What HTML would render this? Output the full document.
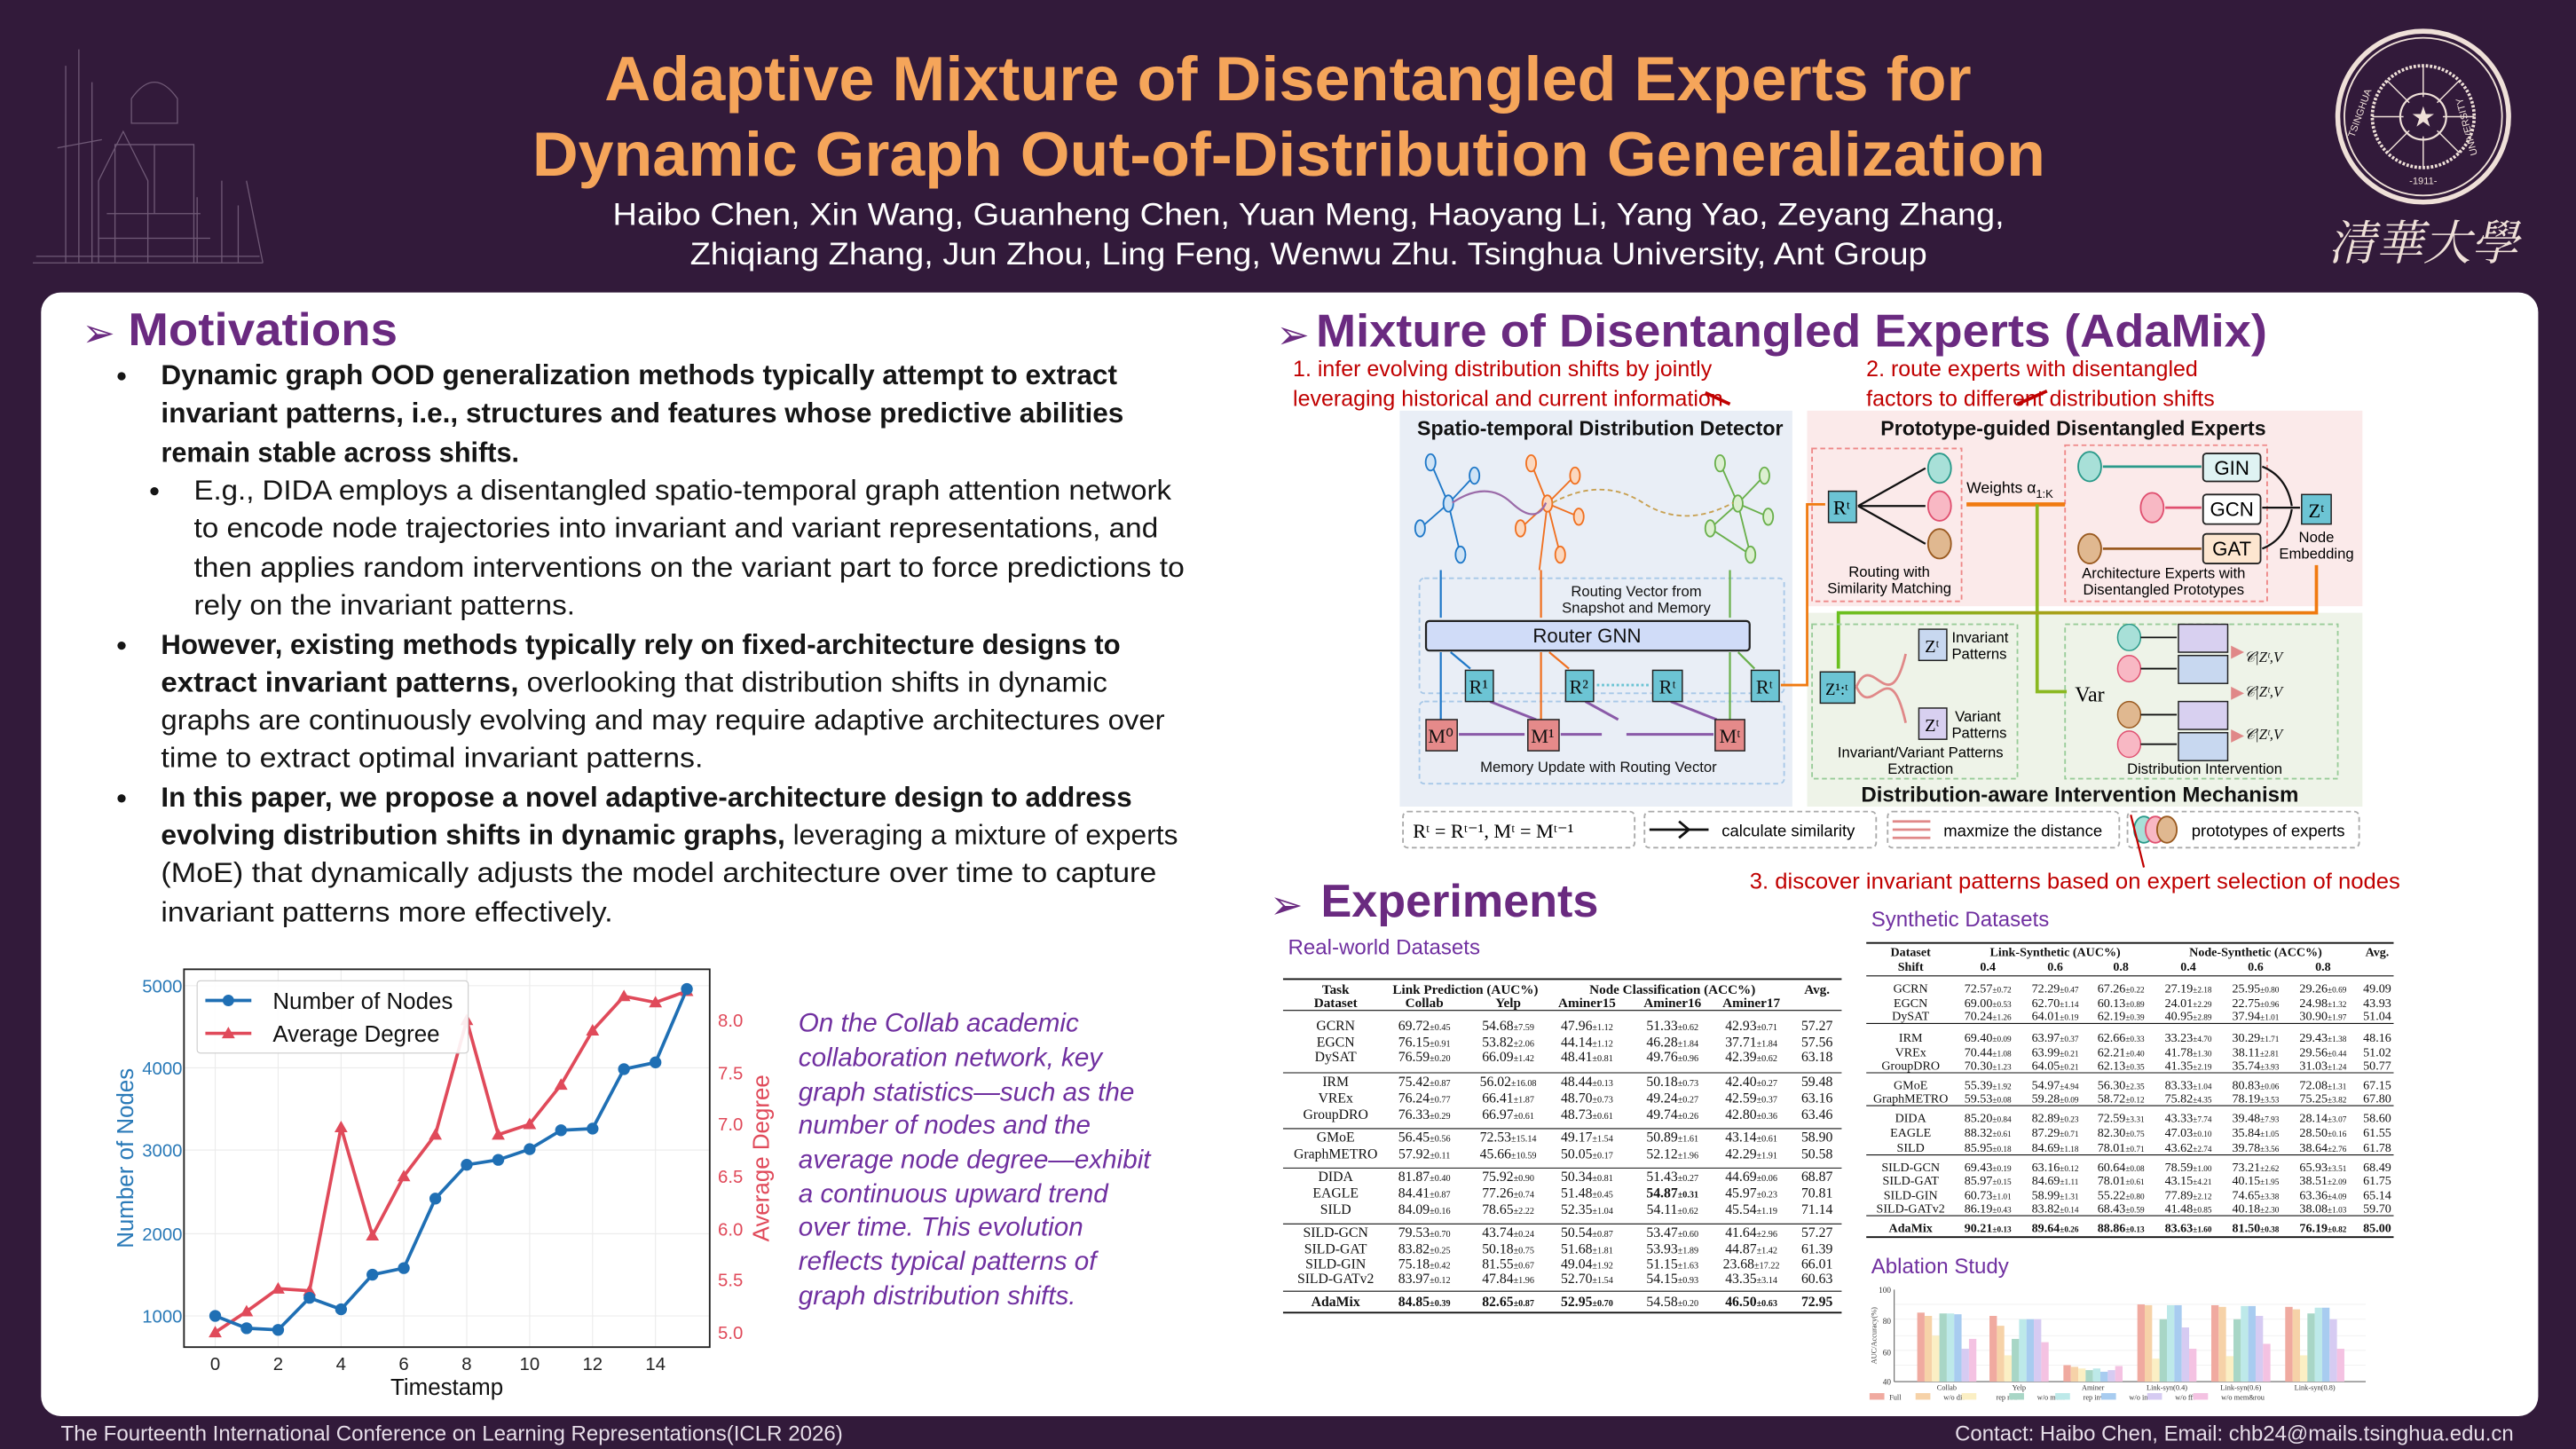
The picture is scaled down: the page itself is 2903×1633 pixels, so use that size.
<!DOCTYPE html>
<html><head><meta charset="utf-8"><style>
html,body{margin:0;padding:0;background:#321a3a;}
svg{display:block;}
</style></head><body>
<svg width="2903" height="1633" viewBox="0 0 1568 882" xmlns="http://www.w3.org/2000/svg" font-family="Liberation Sans, sans-serif">
<rect width="1568" height="882" fill="#321a3a"/>
<!-- building sketch -->
<g stroke="#8a7590" stroke-width="0.7" fill="none" opacity="0.7">
<path d="M40 160 L40 40 M48 160 L48 30 M56 160 L56 50 M35 90 L62 85"/>
<path d="M60 160 L60 110 L75 80 L90 110 L90 160"/>
<path d="M80 60 Q94 40 108 60 L108 75 L80 75 Z"/>
<path d="M70 160 L70 88 L118 88 L118 160 M94 88 L94 130 M65 130 L122 130 M60 145 L128 145"/>
<path d="M120 160 L120 120 M135 160 L135 110 M145 160 L145 125 M150 110 L160 160"/>
<path d="M20 160 L160 160 M22 156 L158 156"/>
</g>
<!-- logo -->
<g fill="none" stroke="#efe0d8">
<circle cx="1475" cy="71" r="52" stroke-width="3"/>
<circle cx="1475" cy="71" r="48" stroke-width="1"/>
<circle cx="1475" cy="71" r="31" stroke-width="2" stroke-dasharray="1.5 1"/>
<circle cx="1475" cy="71" r="14" stroke-width="1.2"/>
<path d="M1475 40 L1475 102 M1444 71 L1506 71 M1453 49 L1497 93 M1497 49 L1453 93" stroke-width="0.8"/>
</g>
<circle cx="1475" cy="71" r="12" fill="#321a3a"/>
<text x="1475" y="77" font-size="17" fill="#efe0d8" text-anchor="middle">★</text>
<text x="1475" y="112" font-size="6" fill="#efe0d8" text-anchor="middle">-1911-</text>
<text x="1433" y="84" font-size="6" fill="#efe0d8" transform="rotate(-70 1433 84)">TSINGHUA</text>
<text x="1508" y="94" font-size="6" fill="#efe0d8" transform="rotate(-105 1508 94)">UNIVERSITY</text>
<text x="1475" y="158" font-size="29" fill="#efe0d8" text-anchor="middle" font-family="Noto Serif CJK SC, WenQuanYi Zen Hei, serif" font-style="italic">清華大學</text>
<!-- title -->
<text x="368" y="61" font-size="38" font-weight="bold" fill="#f5a55a" textLength="832" lengthAdjust="spacingAndGlyphs">Adaptive Mixture of Disentangled Experts for</text>
<text x="324" y="107" font-size="38" font-weight="bold" fill="#f5a55a" textLength="921" lengthAdjust="spacingAndGlyphs">Dynamic Graph Out-of-Distribution Generalization</text>
<text x="373" y="137" font-size="19" fill="#fff" textLength="847" lengthAdjust="spacingAndGlyphs">Haibo Chen, Xin Wang, Guanheng Chen, Yuan Meng, Haoyang Li, Yang Yao, Zeyang Zhang,</text>
<text x="420" y="161" font-size="19" fill="#fff" textLength="753" lengthAdjust="spacingAndGlyphs">Zhiqiang Zhang, Jun Zhou, Ling Feng, Wenwu Zhu. Tsinghua University, Ant Group</text>
<!-- panel -->
<rect x="25" y="178" width="1520" height="684" rx="12" fill="#fff"/>
<!-- footer -->
<text x="37" y="877" font-size="13" fill="#e6dde8" textLength="476" lengthAdjust="spacingAndGlyphs">The Fourteenth International Conference on Learning Representations(ICLR 2026)</text>
<text x="1530" y="877" font-size="13" fill="#e6dde8" text-anchor="end" textLength="340" lengthAdjust="spacingAndGlyphs">Contact: Haibo Chen, Email: chb24@mails.tsinghua.edu.cn</text>

<!-- Motivations -->
<text x="50" y="211" font-size="24" fill="#6a2a80">➢</text>
<text x="78" y="210" font-size="28" font-weight="bold" fill="#6a2a80" textLength="164" lengthAdjust="spacingAndGlyphs">Motivations</text>
<g font-size="17" fill="#151515">
<circle cx="74" cy="229" r="2.5" fill="#151515"/>
<text x="98" y="234" font-weight="bold" textLength="582" lengthAdjust="spacingAndGlyphs">Dynamic graph OOD generalization methods typically attempt to extract</text>
<text x="98" y="257" font-weight="bold" textLength="586" lengthAdjust="spacingAndGlyphs">invariant patterns, i.e., structures and features whose predictive abilities</text>
<text x="98" y="281" font-weight="bold" textLength="218" lengthAdjust="spacingAndGlyphs">remain stable across shifts.</text>
<circle cx="94" cy="299" r="2.5" fill="#151515"/>
<text x="118" y="304" textLength="595" lengthAdjust="spacingAndGlyphs">E.g., DIDA employs a disentangled spatio-temporal graph attention network</text>
<text x="118" y="327" textLength="587" lengthAdjust="spacingAndGlyphs">to encode node trajectories into invariant and variant representations, and</text>
<text x="118" y="351" textLength="603" lengthAdjust="spacingAndGlyphs">then applies random interventions on the variant part to force predictions to</text>
<text x="118" y="374" textLength="232" lengthAdjust="spacingAndGlyphs">rely on the invariant patterns.</text>
<circle cx="74" cy="393" r="2.5" fill="#151515"/>
<text x="98" y="398" font-weight="bold" textLength="584" lengthAdjust="spacingAndGlyphs">However, existing methods typically rely on fixed-architecture designs to</text>
<text x="98" y="421" textLength="576" lengthAdjust="spacingAndGlyphs"><tspan font-weight="bold">extract invariant patterns,</tspan> overlooking that distribution shifts in dynamic</text>
<text x="98" y="444" textLength="611" lengthAdjust="spacingAndGlyphs">graphs are continuously evolving and may require adaptive architectures over</text>
<text x="98" y="467" textLength="330" lengthAdjust="spacingAndGlyphs">time to extract optimal invariant patterns.</text>
<circle cx="74" cy="486" r="2.5" fill="#151515"/>
<text x="98" y="491" font-weight="bold" textLength="591" lengthAdjust="spacingAndGlyphs">In this paper, we propose a novel adaptive-architecture design to address</text>
<text x="98" y="514" textLength="619" lengthAdjust="spacingAndGlyphs"><tspan font-weight="bold">evolving distribution shifts in dynamic graphs,</tspan> leveraging a mixture of experts</text>
<text x="98" y="537" textLength="606" lengthAdjust="spacingAndGlyphs">(MoE) that dynamically adjusts the model architecture over time to capture</text>
<text x="98" y="561" textLength="275" lengthAdjust="spacingAndGlyphs">invariant patterns more effectively.</text>
</g>
<!-- chart -->
<g>
<g stroke="#ebebeb" stroke-width="0.6">
<line x1="112" y1="600" x2="432" y2="600"/><line x1="112" y1="650" x2="432" y2="650"/><line x1="112" y1="700" x2="432" y2="700"/><line x1="112" y1="751" x2="432" y2="751"/><line x1="112" y1="801" x2="432" y2="801"/>
<line x1="131" y1="590" x2="131" y2="820"/><line x1="169.3" y1="590" x2="169.3" y2="820"/><line x1="207.6" y1="590" x2="207.6" y2="820"/><line x1="245.8" y1="590" x2="245.8" y2="820"/><line x1="284.1" y1="590" x2="284.1" y2="820"/><line x1="322.4" y1="590" x2="322.4" y2="820"/><line x1="360.7" y1="590" x2="360.7" y2="820"/><line x1="399" y1="590" x2="399" y2="820"/>
</g>
<rect x="112" y="590" width="320" height="230" fill="none" stroke="#222" stroke-width="1"/>
<g font-size="11" fill="#2a7ab8" text-anchor="end">
<text x="111" y="604">5000</text><text x="111" y="654">4000</text><text x="111" y="704">3000</text><text x="111" y="755">2000</text><text x="111" y="805">1000</text></g>
<g font-size="11" fill="#e04a5a">
<text x="437" y="625">8.0</text><text x="437" y="657">7.5</text><text x="437" y="688">7.0</text><text x="437" y="720">6.5</text><text x="437" y="752">6.0</text><text x="437" y="783">5.5</text><text x="437" y="815">5.0</text></g>
<g font-size="11" fill="#222" text-anchor="middle">
<text x="131" y="834">0</text><text x="169.3" y="834">2</text><text x="207.6" y="834">4</text><text x="245.8" y="834">6</text><text x="284.1" y="834">8</text><text x="322.4" y="834">10</text><text x="360.7" y="834">12</text><text x="399" y="834">14</text></g>
<text x="272" y="849" font-size="14" fill="#111" text-anchor="middle">Timestamp</text>
<text x="81" y="705" font-size="14" fill="#2a7ab8" text-anchor="middle" transform="rotate(-90 81 705)">Number of Nodes</text>
<text x="468" y="705" font-size="14" fill="#e04a5a" text-anchor="middle" transform="rotate(-90 468 705)">Average Degree</text>
<polyline fill="none" stroke="#e04a5a" stroke-width="2" points="131,811 150.1,798.3 169.3,784.4 188.4,785.7 207.6,686.2 226.7,752.1 245.8,716 265,690.7 284.1,621 303.3,690.7 322.4,684.3 341.5,660.3 360.7,627.3 379.8,606.4 399,610.2 418.1,603.3"/>
<g fill="#e04a5a"><path d="M131 807 l4 7 h-8z M150.1 794.3 l4 7 h-8z M169.3 780.4 l4 7 h-8z M188.4 781.7 l4 7 h-8z M207.6 682.2 l4 7 h-8z M226.7 748.1 l4 7 h-8z M245.8 712 l4 7 h-8z M265 686.7 l4 7 h-8z M284.1 617 l4 7 h-8z M303.3 686.7 l4 7 h-8z M322.4 680.3 l4 7 h-8z M341.5 656.3 l4 7 h-8z M360.7 623.3 l4 7 h-8z M379.8 602.4 l4 7 h-8z M399 606.2 l4 7 h-8z M418.1 599.3 l4 7 h-8z"/></g>
<polyline fill="none" stroke="#1f6fb4" stroke-width="2" points="131,801 150.1,808.5 169.3,809.5 188.4,790 207.6,797 226.7,775.9 245.8,771.9 265,729.6 284.1,709 303.3,706 322.4,699.5 341.5,688 360.7,687 379.8,650.8 399,646.7 418.1,602"/>
<g fill="#1f6fb4"><circle cx="131" cy="801" r="3.6"/><circle cx="150.1" cy="808.5" r="3.6"/><circle cx="169.3" cy="809.5" r="3.6"/><circle cx="188.4" cy="790" r="3.6"/><circle cx="207.6" cy="797" r="3.6"/><circle cx="226.7" cy="775.9" r="3.6"/><circle cx="245.8" cy="771.9" r="3.6"/><circle cx="265" cy="729.6" r="3.6"/><circle cx="284.1" cy="709" r="3.6"/><circle cx="303.3" cy="706" r="3.6"/><circle cx="322.4" cy="699.5" r="3.6"/><circle cx="341.5" cy="688" r="3.6"/><circle cx="360.7" cy="687" r="3.6"/><circle cx="379.8" cy="650.8" r="3.6"/><circle cx="399" cy="646.7" r="3.6"/><circle cx="418.1" cy="602" r="3.6"/></g>
<rect x="120" y="597" width="165" height="44" rx="2" fill="#fff" fill-opacity="0.9" stroke="#ccc" stroke-width="0.6"/>
<line x1="125" y1="609" x2="153" y2="609" stroke="#1f6fb4" stroke-width="2"/><circle cx="139" cy="609" r="3.5" fill="#1f6fb4"/>
<line x1="125" y1="629" x2="153" y2="629" stroke="#e04a5a" stroke-width="2"/><path d="M139 625 l4 7 h-8z" fill="#e04a5a"/>
<text x="166" y="614" font-size="14" fill="#111">Number of Nodes</text>
<text x="166" y="634" font-size="14" fill="#111">Average Degree</text>
</g>
<g font-size="16" font-style="italic" fill="#7030a0">
<text x="486" y="628">On the Collab academic</text>
<text x="486" y="649">collaboration network, key</text>
<text x="486" y="670">graph statistics—such as the</text>
<text x="486" y="690">number of nodes and the</text>
<text x="486" y="711">average node degree—exhibit</text>
<text x="486" y="732">a continuous upward trend</text>
<text x="486" y="752">over time. This evolution</text>
<text x="486" y="773">reflects typical patterns of</text>
<text x="486" y="794">graph distribution shifts.</text>
</g>

<!-- AdaMix heading -->
<text x="777" y="212" font-size="24" fill="#6a2a80">➢</text>
<text x="801" y="211" font-size="28" font-weight="bold" fill="#6a2a80" textLength="579" lengthAdjust="spacingAndGlyphs">Mixture of Disentangled Experts (AdaMix)</text>
<g font-size="13.5" fill="#c00000">
<text x="787" y="229">1. infer evolving distribution shifts by jointly</text>
<text x="787" y="247">leveraging historical and current information</text>
<text x="1136" y="229">2. route experts with disentangled</text>
<text x="1136" y="247">factors to different distribution shifts</text>
<text x="1065" y="541" textLength="396" lengthAdjust="spacingAndGlyphs">3. discover invariant patterns based on expert selection of nodes</text>
</g>
<!-- diagram panels -->
<rect x="852" y="250" width="239" height="241" fill="#e9eef6"/>
<rect x="1100" y="250" width="338" height="119" fill="#fbeaea"/>
<rect x="1100" y="373" width="338" height="118" fill="#eef3e8"/>
<text x="974" y="265" font-size="12.5" font-weight="bold" text-anchor="middle" fill="#111">Spatio-temporal Distribution Detector</text>
<text x="1262" y="265" font-size="12.5" font-weight="bold" text-anchor="middle" fill="#111">Prototype-guided Disentangled Experts</text>
<text x="1266" y="488" font-size="13" font-weight="bold" text-anchor="middle" fill="#111">Distribution-aware Intervention Mechanism</text>
<path d="M1053 246 L1038 239 M1228 246 L1246 238" stroke="#c00000" stroke-width="2"/>
<!-- graphs -->
<g stroke-width="1" fill="#cfe3f5">
<g stroke="#1f78c8"><path d="M881.6 306.5 L870.8 281.4 M881.6 306.5 L897.5 289.5 M881.6 306.5 L864.4 321.6 M881.6 306.5 L889 337.6" fill="none"/>
<ellipse cx="870.8" cy="281.4" rx="3" ry="5"/><ellipse cx="897.5" cy="289.5" rx="3" ry="5"/><ellipse cx="864.4" cy="321.6" rx="3" ry="5"/><ellipse cx="889" cy="337.6" rx="3" ry="5"/><ellipse cx="881.6" cy="306.5" rx="3" ry="5"/></g>
<g stroke="#f07020" fill="#fbd8bf"><path d="M941.9 306.5 L932 282 M941.9 306.5 L958.7 289.5 M941.9 306.5 L961 314.5 M941.9 306.5 L925.5 321.6 M941.9 306.5 L949.7 337.6 M941.9 306.5 L937 347" fill="none"/>
<ellipse cx="932" cy="282" rx="3" ry="5"/><ellipse cx="958.7" cy="289.5" rx="3" ry="5"/><ellipse cx="961" cy="314.5" rx="3" ry="5"/><ellipse cx="925.5" cy="321.6" rx="3" ry="5"/><ellipse cx="949.7" cy="337.6" rx="3" ry="5"/><ellipse cx="941.9" cy="306.5" rx="3" ry="5"/></g>
<g stroke="#6ab04c" fill="#dcefd0"><path d="M1057.8 306.5 L1047 282 M1057.8 306.5 L1074 289.5 M1057.8 306.5 L1076.3 314.5 M1057.8 306.5 L1041 321.6 M1057.8 306.5 L1065.5 337.6 M1041 321.6 L1065.5 337.6" fill="none"/>
<ellipse cx="1047" cy="282" rx="3" ry="5"/><ellipse cx="1074" cy="289.5" rx="3" ry="5"/><ellipse cx="1076.3" cy="314.5" rx="3" ry="5"/><ellipse cx="1041" cy="321.6" rx="3" ry="5"/><ellipse cx="1065.5" cy="337.6" rx="3" ry="5"/><ellipse cx="1057.8" cy="306.5" rx="3" ry="5"/></g>
</g>
<path d="M884 306 Q905 292 920 306 T941 306" stroke="#9a6aa8" fill="none" stroke-width="1.2"/>
<path d="M945 306 Q975 290 1000 306 T1055 306" stroke="#c8a050" fill="none" stroke-width="1" stroke-dasharray="3 2"/>
<defs><linearGradient id="tl" x1="0" x2="1"><stop offset="0" stop-color="#1f78c8"/><stop offset="0.4" stop-color="#f07020"/><stop offset="1" stop-color="#6ab04c"/></linearGradient>
<linearGradient id="og" x1="0" x2="1"><stop offset="0" stop-color="#6ac020"/><stop offset="1" stop-color="#f07a10"/></linearGradient></defs>
<line x1="860" y1="347" x2="1082" y2="347" stroke="url(#tl)" stroke-width="2"/>
<rect x="864" y="352" width="222" height="70" rx="3" fill="none" stroke="#a8c8e8" stroke-dasharray="3 2"/>
<rect x="864" y="427" width="222" height="50" rx="3" fill="none" stroke="#a8c8e8" stroke-dasharray="3 2"/>
<g stroke-width="1.2" fill="none"><path d="M877 347 V376" stroke="#1f78c8"/><path d="M938 347 V376" stroke="#f07020"/><path d="M1053 347 V376" stroke="#6ab04c"/>
<path d="M877 438 V397 M883 397 L895 407" stroke="#1f78c8"/><path d="M938 438 V397 M943 397 L955 407" stroke="#f07020"/><path d="M1053 438 V397 M1058 397 L1068 407" stroke="#6ab04c"/>
<path d="M888 447 H928 M950 447 H975 M990 447 H1043 M907 427 L935 438 M965 427 L985 438 M1017 427 L1045 438" stroke="#8a5aa8" stroke-width="1.6"/></g>
<text x="996" y="363" font-size="9" text-anchor="middle" fill="#111">Routing Vector from</text>
<text x="996" y="373" font-size="9" text-anchor="middle" fill="#111">Snapshot and Memory</text>
<rect x="868" y="378" width="197" height="18" rx="2" fill="#d0dcf8" stroke="#222" stroke-width="1.2"/>
<text x="966" y="391" font-size="12" text-anchor="middle" fill="#111">Router GNN</text>
<g fill="#6cc4d4" stroke="#222" stroke-width="0.8"><rect x="892" y="408" width="17" height="19"/><rect x="953" y="408" width="17" height="19"/><rect x="1006" y="408" width="18" height="19"/><rect x="1066" y="408" width="17" height="19"/></g>
<g font-family="Liberation Serif, serif" font-size="12" fill="#111" text-anchor="middle"><text x="900" y="422">R¹</text><text x="961" y="422">R²</text><text x="1015" y="422">Rᵗ</text><text x="1074" y="422">Rᵗ</text></g>
<line x1="972" y1="417" x2="1004" y2="417" stroke="#6cc4d4" stroke-width="1.5" stroke-dasharray="1.5 1.5"/>
<g fill="#e58a8a" stroke="#222" stroke-width="0.8"><rect x="868" y="438" width="19" height="19"/><rect x="930" y="438" width="19" height="19"/><rect x="1044" y="438" width="18" height="19"/></g>
<g font-family="Liberation Serif, serif" font-size="12" fill="#111" text-anchor="middle"><text x="877" y="452">M⁰</text><text x="939" y="452">M¹</text><text x="1053" y="452">Mᵗ</text></g>
<text x="973" y="470" font-size="9" text-anchor="middle" fill="#111">Memory Update with Routing Vector</text>
<path d="M1084 417 H1100 V307 H1111" stroke="#f07a10" stroke-width="1.5" fill="none"/>
<!-- experts -->
<rect x="1103" y="273" width="91" height="93" fill="none" stroke="#e88" stroke-dasharray="3 2"/>
<rect x="1257" y="271" width="123" height="95" fill="none" stroke="#e88" stroke-dasharray="3 2"/>
<rect x="1113" y="299" width="17" height="19" fill="#6cc4d4" stroke="#222" stroke-width="0.8"/>
<text x="1121" y="313" font-size="12" font-family="Liberation Serif, serif" text-anchor="middle">Rᵗ</text>
<path d="M1131 308 L1172 285 M1131 308 H1172 M1131 308 L1172 331" stroke="#111" stroke-width="1.2"/>
<ellipse cx="1180.6" cy="285" rx="7" ry="9" fill="#a8e0d8" stroke="#2a9a8a"/>
<ellipse cx="1180.6" cy="308" rx="7" ry="9" fill="#f8b8c4" stroke="#e05070"/>
<ellipse cx="1180.6" cy="331" rx="7" ry="9" fill="#e0b890" stroke="#9a5a20"/>
<text x="1150" y="351" font-size="9" text-anchor="middle">Routing with</text>
<text x="1150" y="361" font-size="9" text-anchor="middle">Similarity Matching</text>
<text x="1197" y="300" font-size="9.5">Weights α<tspan font-size="7" dy="3">1:K</tspan></text>
<path d="M1197 307 H1257" stroke="#f07a10" stroke-width="2.5"/>
<path d="M1240 307 V421 H1258" stroke="#8ab820" stroke-width="2" fill="none"/>
<ellipse cx="1272" cy="284" rx="7" ry="9" fill="#a8e0d8" stroke="#2a9a8a"/>
<ellipse cx="1310" cy="309" rx="7" ry="9" fill="#f8b8c4" stroke="#e05070"/>
<ellipse cx="1272" cy="334" rx="7" ry="9" fill="#e0b890" stroke="#9a5a20"/>
<path d="M1280 284 H1340" stroke="#2a9a8a" stroke-width="1.5"/><path d="M1318 309 H1340" stroke="#e05070" stroke-width="1.5"/><path d="M1280 334 H1340" stroke="#9a5a20" stroke-width="1.5"/>
<rect x="1341" y="276" width="35" height="17" rx="2" fill="#dff3f3" stroke="#222"/><text x="1358.5" y="289" font-size="12" text-anchor="middle">GIN</text>
<rect x="1341" y="301" width="35" height="18" rx="2" fill="#fff" stroke="#222"/><text x="1358.5" y="314" font-size="12" text-anchor="middle">GCN</text>
<rect x="1341" y="325" width="35" height="18" rx="2" fill="#fde6d0" stroke="#222"/><text x="1358.5" y="338" font-size="12" text-anchor="middle">GAT</text>
<path d="M1377 284 Q1392 290 1395 308 M1377 309 H1400 M1377 334 Q1392 328 1395 310" stroke="#111" stroke-width="1.2" fill="none"/>
<rect x="1401" y="301" width="18" height="18" fill="#6cc4d4" stroke="#222" stroke-width="0.8"/><text x="1410" y="315" font-size="12" font-family="Liberation Serif, serif" text-anchor="middle">Zᵗ</text>
<text x="1410" y="330" font-size="9" text-anchor="middle">Node</text><text x="1410" y="340" font-size="9" text-anchor="middle">Embedding</text>
<text x="1317" y="352" font-size="9" text-anchor="middle">Architecture Experts with</text>
<text x="1317" y="362" font-size="9" text-anchor="middle">Disentangled Prototypes</text>
<path d="M1410 344 V373 H1119 V407" stroke="url(#og)" stroke-width="2" fill="none"/>
<!-- intervention -->
<rect x="1103" y="380" width="125" height="94" fill="none" stroke="#9c9" stroke-dasharray="3 2"/>
<rect x="1257" y="380" width="166" height="94" fill="none" stroke="#9c9" stroke-dasharray="3 2"/>
<rect x="1108" y="409" width="21" height="19" fill="#6cc4d4" stroke="#222" stroke-width="0.8"/><text x="1118" y="423" font-size="10" font-family="Liberation Serif, serif" text-anchor="middle">Z¹:ᵗ</text>
<path d="M1130 418 C1140 395 1150 440 1160 398 M1130 418 C1140 440 1150 395 1160 440" stroke="#e08888" stroke-width="1.5" fill="none"/>
<rect x="1168" y="383" width="17" height="19" fill="#c8d8f0" stroke="#222" stroke-width="0.8"/><text x="1176" y="397" font-size="11" font-family="Liberation Serif, serif" text-anchor="middle">Zᵗ</text>
<rect x="1168" y="431" width="17" height="19" fill="#d8d0f0" stroke="#222" stroke-width="0.8"/><text x="1176" y="445" font-size="11" font-family="Liberation Serif, serif" text-anchor="middle">Zᵗ</text>
<text x="1188" y="391" font-size="9">Invariant</text><text x="1188" y="401" font-size="9">Patterns</text>
<text x="1190" y="439" font-size="9">Variant</text><text x="1188" y="449" font-size="9">Patterns</text>
<text x="1169" y="461" font-size="9" text-anchor="middle">Invariant/Variant Patterns</text>
<text x="1169" y="471" font-size="9" text-anchor="middle">Extraction</text>
<text x="1263" y="427" font-size="13" font-family="Liberation Serif, serif">Var</text>
<g stroke-width="0.8"><ellipse cx="1296" cy="388" rx="7" ry="8" fill="#a8e0d8" stroke="#2a9a8a"/><ellipse cx="1296" cy="407" rx="7" ry="8" fill="#f8b8c4" stroke="#e05070"/><ellipse cx="1296" cy="435" rx="7" ry="8" fill="#e0b890" stroke="#9a5a20"/><ellipse cx="1296" cy="453" rx="7" ry="8" fill="#f8b8c4" stroke="#e05070"/></g>
<g fill="#d8d0f0" stroke="#222" stroke-width="0.8"><rect x="1326" y="380" width="30" height="17"/><rect x="1326" y="399" width="30" height="17" fill="#c8d8f0"/><rect x="1326" y="427" width="30" height="17"/><rect x="1326" y="446" width="30" height="17" fill="#c8d8f0"/></g>
<path d="M1303 388 H1325 M1303 407 H1325 M1303 435 H1325 M1303 453 H1325" stroke="#111"/>
<g font-size="9" font-family="Liberation Serif, serif" font-style="italic" fill="#111"><text x="1366" y="403">𝒞|Zᵗ,V</text><text x="1366" y="424">𝒞|Zᵗ,V</text><text x="1366" y="450">𝒞|Zᵗ,V</text></g>
<path d="M1358 393 l8 4 -8 4z M1358 418 l8 4 -8 4z M1358 444 l8 4 -8 4z" fill="#e08888"/>
<text x="1342" y="471" font-size="9" text-anchor="middle">Distribution Intervention</text>
<!-- legend row -->
<g fill="none" stroke="#aaa" stroke-dasharray="3 2"><rect x="854" y="494" width="141" height="22" rx="3"/><rect x="1001" y="494" width="141" height="22" rx="3"/><rect x="1149" y="494" width="141" height="22" rx="3"/><rect x="1295" y="494" width="141" height="22" rx="3"/></g>
<text x="860" y="510" font-size="12" font-family="Liberation Serif, serif">Rᵗ = Rᵗ⁻¹, Mᵗ = Mᵗ⁻¹</text>
<path d="M1004 505 H1040 M1022 500 L1028 505 L1022 510" stroke="#111" stroke-width="1.5" fill="none"/>
<text x="1048" y="509" font-size="10">calculate similarity</text>
<path d="M1152 500 H1175 M1152 505 H1175 M1152 510 H1175" stroke="#e08888" stroke-width="1.5"/>
<text x="1183" y="509" font-size="10">maxmize the distance</text>
<ellipse cx="1305" cy="505" rx="6" ry="8" fill="#a8e0d8" stroke="#2a9a8a"/><ellipse cx="1312" cy="505" rx="6" ry="8" fill="#f8b8c4" stroke="#e05070"/><ellipse cx="1319" cy="505" rx="6" ry="8" fill="#e0b890" stroke="#9a5a20"/>
<text x="1334" y="509" font-size="10">prototypes of experts</text>
<path d="M1297 496 L1305 528" stroke="#c00000" stroke-width="1.2"/>

<!-- Experiments -->
<text x="773" y="559" font-size="24" fill="#6a2a80">➢</text>
<text x="804" y="558" font-size="28" font-weight="bold" fill="#6a2a80" textLength="169" lengthAdjust="spacingAndGlyphs">Experiments</text>
<text x="784" y="581" font-size="13" fill="#7030a0">Real-world Datasets</text>
<text x="1139" y="564" font-size="13" fill="#7030a0">Synthetic Datasets</text>
<text x="1139" y="775" font-size="13" fill="#7030a0">Ablation Study</text>

<!-- real-world table -->
<g font-family="Liberation Serif, serif" font-size="8.2" fill="#111" text-anchor="middle">
<line x1="781" y1="596" x2="1121" y2="596" stroke="#111" stroke-width="1"/>
<line x1="781" y1="615" x2="1121" y2="615" stroke="#111" stroke-width="0.6"/>
<line x1="781" y1="653" x2="1121" y2="653" stroke="#111" stroke-width="0.6"/>
<line x1="781" y1="687" x2="1121" y2="687" stroke="#111" stroke-width="0.6"/>
<line x1="781" y1="711" x2="1121" y2="711" stroke="#111" stroke-width="0.6"/>
<line x1="781" y1="745" x2="1121" y2="745" stroke="#111" stroke-width="0.6"/>
<line x1="781" y1="786" x2="1121" y2="786" stroke="#111" stroke-width="0.6"/>
<line x1="781" y1="799" x2="1121" y2="799" stroke="#111" stroke-width="1"/>
<g font-weight="bold"><text x="813" y="605">Task</text><text x="813" y="613">Dataset</text><text x="892" y="605">Link Prediction (AUC%)</text><text x="1018" y="605">Node Classification (ACC%)</text><text x="1106" y="605">Avg.</text>
<text x="867" y="613">Collab</text><text x="918" y="613">Yelp</text><text x="966" y="613">Aminer15</text><text x="1018" y="613">Aminer16</text><text x="1066" y="613">Aminer17</text></g>
<g font-size="8.5">
<text y="627"><tspan x="813">GCRN</tspan><tspan x="867">69.72<tspan font-size="5.5">±0.45</tspan></tspan><tspan x="918">54.68<tspan font-size="5.5">±7.59</tspan></tspan><tspan x="966">47.96<tspan font-size="5.5">±1.12</tspan></tspan><tspan x="1018">51.33<tspan font-size="5.5">±0.62</tspan></tspan><tspan x="1066">42.93<tspan font-size="5.5">±0.71</tspan></tspan><tspan x="1106">57.27</tspan></text>
<text y="637"><tspan x="813">EGCN</tspan><tspan x="867">76.15<tspan font-size="5.5">±0.91</tspan></tspan><tspan x="918">53.82<tspan font-size="5.5">±2.06</tspan></tspan><tspan x="966">44.14<tspan font-size="5.5">±1.12</tspan></tspan><tspan x="1018">46.28<tspan font-size="5.5">±1.84</tspan></tspan><tspan x="1066">37.71<tspan font-size="5.5">±1.84</tspan></tspan><tspan x="1106">57.56</tspan></text>
<text y="646"><tspan x="813">DySAT</tspan><tspan x="867">76.59<tspan font-size="5.5">±0.20</tspan></tspan><tspan x="918">66.09<tspan font-size="5.5">±1.42</tspan></tspan><tspan x="966">48.41<tspan font-size="5.5">±0.81</tspan></tspan><tspan x="1018">49.76<tspan font-size="5.5">±0.96</tspan></tspan><tspan x="1066">42.39<tspan font-size="5.5">±0.62</tspan></tspan><tspan x="1106">63.18</tspan></text>
<text y="661"><tspan x="813">IRM</tspan><tspan x="867">75.42<tspan font-size="5.5">±0.87</tspan></tspan><tspan x="918">56.02<tspan font-size="5.5">±16.08</tspan></tspan><tspan x="966">48.44<tspan font-size="5.5">±0.13</tspan></tspan><tspan x="1018">50.18<tspan font-size="5.5">±0.73</tspan></tspan><tspan x="1066">42.40<tspan font-size="5.5">±0.27</tspan></tspan><tspan x="1106">59.48</tspan></text>
<text y="671"><tspan x="813">VREx</tspan><tspan x="867">76.24<tspan font-size="5.5">±0.77</tspan></tspan><tspan x="918">66.41<tspan font-size="5.5">±1.87</tspan></tspan><tspan x="966">48.70<tspan font-size="5.5">±0.73</tspan></tspan><tspan x="1018">49.24<tspan font-size="5.5">±0.27</tspan></tspan><tspan x="1066">42.59<tspan font-size="5.5">±0.37</tspan></tspan><tspan x="1106">63.16</tspan></text>
<text y="681"><tspan x="813">GroupDRO</tspan><tspan x="867">76.33<tspan font-size="5.5">±0.29</tspan></tspan><tspan x="918">66.97<tspan font-size="5.5">±0.61</tspan></tspan><tspan x="966">48.73<tspan font-size="5.5">±0.61</tspan></tspan><tspan x="1018">49.74<tspan font-size="5.5">±0.26</tspan></tspan><tspan x="1066">42.80<tspan font-size="5.5">±0.36</tspan></tspan><tspan x="1106">63.46</tspan></text>
<text y="695"><tspan x="813">GMoE</tspan><tspan x="867">56.45<tspan font-size="5.5">±0.56</tspan></tspan><tspan x="918">72.53<tspan font-size="5.5">±15.14</tspan></tspan><tspan x="966">49.17<tspan font-size="5.5">±1.54</tspan></tspan><tspan x="1018">50.89<tspan font-size="5.5">±1.61</tspan></tspan><tspan x="1066">43.14<tspan font-size="5.5">±0.61</tspan></tspan><tspan x="1106">58.90</tspan></text>
<text y="705"><tspan x="813">GraphMETRO</tspan><tspan x="867">57.92<tspan font-size="5.5">±0.11</tspan></tspan><tspan x="918">45.66<tspan font-size="5.5">±10.59</tspan></tspan><tspan x="966">50.05<tspan font-size="5.5">±0.17</tspan></tspan><tspan x="1018">52.12<tspan font-size="5.5">±1.96</tspan></tspan><tspan x="1066">42.29<tspan font-size="5.5">±1.91</tspan></tspan><tspan x="1106">50.58</tspan></text>
<text y="719"><tspan x="813">DIDA</tspan><tspan x="867">81.87<tspan font-size="5.5">±0.40</tspan></tspan><tspan x="918">75.92<tspan font-size="5.5">±0.90</tspan></tspan><tspan x="966">50.34<tspan font-size="5.5">±0.81</tspan></tspan><tspan x="1018">51.43<tspan font-size="5.5">±0.27</tspan></tspan><tspan x="1066">44.69<tspan font-size="5.5">±0.06</tspan></tspan><tspan x="1106">68.87</tspan></text>
<text y="729"><tspan x="813">EAGLE</tspan><tspan x="867">84.41<tspan font-size="5.5">±0.87</tspan></tspan><tspan x="918">77.26<tspan font-size="5.5">±0.74</tspan></tspan><tspan x="966">51.48<tspan font-size="5.5">±0.45</tspan></tspan><tspan x="1018" font-weight="bold">54.87<tspan font-size="5.5">±0.31</tspan></tspan><tspan x="1066">45.97<tspan font-size="5.5">±0.23</tspan></tspan><tspan x="1106">70.81</tspan></text>
<text y="739"><tspan x="813">SILD</tspan><tspan x="867">84.09<tspan font-size="5.5">±0.16</tspan></tspan><tspan x="918">78.65<tspan font-size="5.5">±2.22</tspan></tspan><tspan x="966">52.35<tspan font-size="5.5">±1.04</tspan></tspan><tspan x="1018">54.11<tspan font-size="5.5">±0.62</tspan></tspan><tspan x="1066">45.54<tspan font-size="5.5">±1.19</tspan></tspan><tspan x="1106">71.14</tspan></text>
<text y="753"><tspan x="813">SILD-GCN</tspan><tspan x="867">79.53<tspan font-size="5.5">±0.70</tspan></tspan><tspan x="918">43.74<tspan font-size="5.5">±0.24</tspan></tspan><tspan x="966">50.54<tspan font-size="5.5">±0.87</tspan></tspan><tspan x="1018">53.47<tspan font-size="5.5">±0.60</tspan></tspan><tspan x="1066">41.64<tspan font-size="5.5">±2.96</tspan></tspan><tspan x="1106">57.27</tspan></text>
<text y="763"><tspan x="813">SILD-GAT</tspan><tspan x="867">83.82<tspan font-size="5.5">±0.25</tspan></tspan><tspan x="918">50.18<tspan font-size="5.5">±0.75</tspan></tspan><tspan x="966">51.68<tspan font-size="5.5">±1.81</tspan></tspan><tspan x="1018">53.93<tspan font-size="5.5">±1.89</tspan></tspan><tspan x="1066">44.87<tspan font-size="5.5">±1.42</tspan></tspan><tspan x="1106">61.39</tspan></text>
<text y="772"><tspan x="813">SILD-GIN</tspan><tspan x="867">75.18<tspan font-size="5.5">±0.42</tspan></tspan><tspan x="918">81.55<tspan font-size="5.5">±0.67</tspan></tspan><tspan x="966">49.04<tspan font-size="5.5">±1.92</tspan></tspan><tspan x="1018">51.15<tspan font-size="5.5">±1.63</tspan></tspan><tspan x="1066">23.68<tspan font-size="5.5">±17.22</tspan></tspan><tspan x="1106">66.01</tspan></text>
<text y="781"><tspan x="813">SILD-GATv2</tspan><tspan x="867">83.97<tspan font-size="5.5">±0.12</tspan></tspan><tspan x="918">47.84<tspan font-size="5.5">±1.96</tspan></tspan><tspan x="966">52.70<tspan font-size="5.5">±1.54</tspan></tspan><tspan x="1018">54.15<tspan font-size="5.5">±0.93</tspan></tspan><tspan x="1066">43.35<tspan font-size="5.5">±3.14</tspan></tspan><tspan x="1106">60.63</tspan></text>
<text y="795" font-weight="bold"><tspan x="813">AdaMix</tspan><tspan x="867">84.85<tspan font-size="5.5">±0.39</tspan></tspan><tspan x="918">82.65<tspan font-size="5.5">±0.87</tspan></tspan><tspan x="966">52.95<tspan font-size="5.5">±0.70</tspan></tspan><tspan x="1018" font-weight="normal">54.58<tspan font-size="5.5">±0.20</tspan></tspan><tspan x="1066">46.50<tspan font-size="5.5">±0.63</tspan></tspan><tspan x="1106">72.95</tspan></text>
</g></g>

<!-- synthetic table -->
<g font-family="Liberation Serif, serif" font-size="7.6" fill="#111" text-anchor="middle">
<line x1="1136" y1="574" x2="1457" y2="574" stroke="#111" stroke-width="1"/>
<line x1="1136" y1="594" x2="1457" y2="594" stroke="#111" stroke-width="0.6"/>
<line x1="1136" y1="623" x2="1457" y2="623" stroke="#111" stroke-width="0.6"/>
<line x1="1136" y1="653" x2="1457" y2="653" stroke="#111" stroke-width="0.6"/>
<line x1="1136" y1="673" x2="1457" y2="673" stroke="#111" stroke-width="0.6"/>
<line x1="1136" y1="703" x2="1457" y2="703" stroke="#111" stroke-width="0.6"/>
<line x1="1136" y1="740" x2="1457" y2="740" stroke="#111" stroke-width="0.6"/>
<line x1="1136" y1="753" x2="1457" y2="753" stroke="#111" stroke-width="1"/>
<g font-weight="bold"><text x="1163" y="582">Dataset</text><text x="1163" y="591">Shift</text><text x="1251" y="582">Link-Synthetic (AUC%)</text><text x="1373" y="582">Node-Synthetic (ACC%)</text><text x="1447" y="582">Avg.</text>
<text x="1210" y="591">0.4</text><text x="1251" y="591">0.6</text><text x="1291" y="591">0.8</text><text x="1332" y="591">0.4</text><text x="1373" y="591">0.6</text><text x="1414" y="591">0.8</text></g>
<text y="604"><tspan x="1163">GCRN</tspan><tspan x="1210">72.57<tspan font-size="5">±0.72</tspan></tspan><tspan x="1251">72.29<tspan font-size="5">±0.47</tspan></tspan><tspan x="1291">67.26<tspan font-size="5">±0.22</tspan></tspan><tspan x="1332">27.19<tspan font-size="5">±2.18</tspan></tspan><tspan x="1373">25.95<tspan font-size="5">±0.80</tspan></tspan><tspan x="1414">29.26<tspan font-size="5">±0.69</tspan></tspan><tspan x="1447">49.09</tspan></text>
<text y="613"><tspan x="1163">EGCN</tspan><tspan x="1210">69.00<tspan font-size="5">±0.53</tspan></tspan><tspan x="1251">62.70<tspan font-size="5">±1.14</tspan></tspan><tspan x="1291">60.13<tspan font-size="5">±0.89</tspan></tspan><tspan x="1332">24.01<tspan font-size="5">±2.29</tspan></tspan><tspan x="1373">22.75<tspan font-size="5">±0.96</tspan></tspan><tspan x="1414">24.98<tspan font-size="5">±1.32</tspan></tspan><tspan x="1447">43.93</tspan></text>
<text y="621"><tspan x="1163">DySAT</tspan><tspan x="1210">70.24<tspan font-size="5">±1.26</tspan></tspan><tspan x="1251">64.01<tspan font-size="5">±0.19</tspan></tspan><tspan x="1291">62.19<tspan font-size="5">±0.39</tspan></tspan><tspan x="1332">40.95<tspan font-size="5">±2.89</tspan></tspan><tspan x="1373">37.94<tspan font-size="5">±1.01</tspan></tspan><tspan x="1414">30.90<tspan font-size="5">±1.97</tspan></tspan><tspan x="1447">51.04</tspan></text>
<text y="634"><tspan x="1163">IRM</tspan><tspan x="1210">69.40<tspan font-size="5">±0.09</tspan></tspan><tspan x="1251">63.97<tspan font-size="5">±0.37</tspan></tspan><tspan x="1291">62.66<tspan font-size="5">±0.33</tspan></tspan><tspan x="1332">33.23<tspan font-size="5">±4.70</tspan></tspan><tspan x="1373">30.29<tspan font-size="5">±1.71</tspan></tspan><tspan x="1414">29.43<tspan font-size="5">±1.38</tspan></tspan><tspan x="1447">48.16</tspan></text>
<text y="643"><tspan x="1163">VREx</tspan><tspan x="1210">70.44<tspan font-size="5">±1.08</tspan></tspan><tspan x="1251">63.99<tspan font-size="5">±0.21</tspan></tspan><tspan x="1291">62.21<tspan font-size="5">±0.40</tspan></tspan><tspan x="1332">41.78<tspan font-size="5">±1.30</tspan></tspan><tspan x="1373">38.11<tspan font-size="5">±2.81</tspan></tspan><tspan x="1414">29.56<tspan font-size="5">±0.44</tspan></tspan><tspan x="1447">51.02</tspan></text>
<text y="651"><tspan x="1163">GroupDRO</tspan><tspan x="1210">70.30<tspan font-size="5">±1.23</tspan></tspan><tspan x="1251">64.05<tspan font-size="5">±0.21</tspan></tspan><tspan x="1291">62.13<tspan font-size="5">±0.35</tspan></tspan><tspan x="1332">41.35<tspan font-size="5">±2.19</tspan></tspan><tspan x="1373">35.74<tspan font-size="5">±3.93</tspan></tspan><tspan x="1414">31.03<tspan font-size="5">±1.24</tspan></tspan><tspan x="1447">50.77</tspan></text>
<text y="663"><tspan x="1163">GMoE</tspan><tspan x="1210">55.39<tspan font-size="5">±1.92</tspan></tspan><tspan x="1251">54.97<tspan font-size="5">±4.94</tspan></tspan><tspan x="1291">56.30<tspan font-size="5">±2.35</tspan></tspan><tspan x="1332">83.33<tspan font-size="5">±1.04</tspan></tspan><tspan x="1373">80.83<tspan font-size="5">±0.06</tspan></tspan><tspan x="1414">72.08<tspan font-size="5">±1.31</tspan></tspan><tspan x="1447">67.15</tspan></text>
<text y="671"><tspan x="1163">GraphMETRO</tspan><tspan x="1210">59.53<tspan font-size="5">±0.08</tspan></tspan><tspan x="1251">59.28<tspan font-size="5">±0.09</tspan></tspan><tspan x="1291">58.72<tspan font-size="5">±0.12</tspan></tspan><tspan x="1332">75.82<tspan font-size="5">±4.35</tspan></tspan><tspan x="1373">78.19<tspan font-size="5">±3.53</tspan></tspan><tspan x="1414">75.25<tspan font-size="5">±3.82</tspan></tspan><tspan x="1447">67.80</tspan></text>
<text y="683"><tspan x="1163">DIDA</tspan><tspan x="1210">85.20<tspan font-size="5">±0.84</tspan></tspan><tspan x="1251">82.89<tspan font-size="5">±0.23</tspan></tspan><tspan x="1291">72.59<tspan font-size="5">±3.31</tspan></tspan><tspan x="1332">43.33<tspan font-size="5">±7.74</tspan></tspan><tspan x="1373">39.48<tspan font-size="5">±7.93</tspan></tspan><tspan x="1414">28.14<tspan font-size="5">±3.07</tspan></tspan><tspan x="1447">58.60</tspan></text>
<text y="692"><tspan x="1163">EAGLE</tspan><tspan x="1210">88.32<tspan font-size="5">±0.61</tspan></tspan><tspan x="1251">87.29<tspan font-size="5">±0.71</tspan></tspan><tspan x="1291">82.30<tspan font-size="5">±0.75</tspan></tspan><tspan x="1332">47.03<tspan font-size="5">±0.10</tspan></tspan><tspan x="1373">35.84<tspan font-size="5">±1.05</tspan></tspan><tspan x="1414">28.50<tspan font-size="5">±0.16</tspan></tspan><tspan x="1447">61.55</tspan></text>
<text y="701"><tspan x="1163">SILD</tspan><tspan x="1210">85.95<tspan font-size="5">±0.18</tspan></tspan><tspan x="1251">84.69<tspan font-size="5">±1.18</tspan></tspan><tspan x="1291">78.01<tspan font-size="5">±0.71</tspan></tspan><tspan x="1332">43.62<tspan font-size="5">±2.74</tspan></tspan><tspan x="1373">39.78<tspan font-size="5">±3.56</tspan></tspan><tspan x="1414">38.64<tspan font-size="5">±2.76</tspan></tspan><tspan x="1447">61.78</tspan></text>
<text y="713"><tspan x="1163">SILD-GCN</tspan><tspan x="1210">69.43<tspan font-size="5">±0.19</tspan></tspan><tspan x="1251">63.16<tspan font-size="5">±0.12</tspan></tspan><tspan x="1291">60.64<tspan font-size="5">±0.08</tspan></tspan><tspan x="1332">78.59<tspan font-size="5">±1.00</tspan></tspan><tspan x="1373">73.21<tspan font-size="5">±2.62</tspan></tspan><tspan x="1414">65.93<tspan font-size="5">±3.51</tspan></tspan><tspan x="1447">68.49</tspan></text>
<text y="721"><tspan x="1163">SILD-GAT</tspan><tspan x="1210">85.97<tspan font-size="5">±0.15</tspan></tspan><tspan x="1251">84.69<tspan font-size="5">±1.11</tspan></tspan><tspan x="1291">78.01<tspan font-size="5">±0.61</tspan></tspan><tspan x="1332">43.15<tspan font-size="5">±4.21</tspan></tspan><tspan x="1373">40.15<tspan font-size="5">±1.95</tspan></tspan><tspan x="1414">38.51<tspan font-size="5">±2.09</tspan></tspan><tspan x="1447">61.75</tspan></text>
<text y="730"><tspan x="1163">SILD-GIN</tspan><tspan x="1210">60.73<tspan font-size="5">±1.01</tspan></tspan><tspan x="1251">58.99<tspan font-size="5">±1.31</tspan></tspan><tspan x="1291">55.22<tspan font-size="5">±0.80</tspan></tspan><tspan x="1332">77.89<tspan font-size="5">±2.12</tspan></tspan><tspan x="1373">74.65<tspan font-size="5">±3.38</tspan></tspan><tspan x="1414">63.36<tspan font-size="5">±4.09</tspan></tspan><tspan x="1447">65.14</tspan></text>
<text y="738"><tspan x="1163">SILD-GATv2</tspan><tspan x="1210">86.19<tspan font-size="5">±0.43</tspan></tspan><tspan x="1251">83.82<tspan font-size="5">±0.14</tspan></tspan><tspan x="1291">68.43<tspan font-size="5">±0.59</tspan></tspan><tspan x="1332">41.48<tspan font-size="5">±0.85</tspan></tspan><tspan x="1373">40.18<tspan font-size="5">±2.30</tspan></tspan><tspan x="1414">38.08<tspan font-size="5">±1.03</tspan></tspan><tspan x="1447">59.70</tspan></text>
<text y="750" font-weight="bold"><tspan x="1163">AdaMix</tspan><tspan x="1210">90.21<tspan font-size="5">±0.13</tspan></tspan><tspan x="1251">89.64<tspan font-size="5">±0.26</tspan></tspan><tspan x="1291">88.86<tspan font-size="5">±0.13</tspan></tspan><tspan x="1332">83.63<tspan font-size="5">±1.60</tspan></tspan><tspan x="1373">81.50<tspan font-size="5">±0.38</tspan></tspan><tspan x="1414">76.19<tspan font-size="5">±0.82</tspan></tspan><tspan x="1447">85.00</tspan></text>
</g>

<!-- ablation chart -->
<g>
<g stroke="#eee" stroke-width="0.4"><line x1="1153" y1="794" x2="1440" y2="794"/><line x1="1153" y1="803" x2="1440" y2="803"/><line x1="1153" y1="813" x2="1440" y2="813"/><line x1="1153" y1="822" x2="1440" y2="822"/><line x1="1153" y1="831" x2="1440" y2="831"/></g>
<line x1="1153" y1="785" x2="1153" y2="841" stroke="#666" stroke-width="0.6"/>
<line x1="1153" y1="841" x2="1440" y2="841" stroke="#666" stroke-width="0.6"/>
<g font-size="5" font-family="Liberation Serif, serif" fill="#333" text-anchor="end"><text x="1151" y="787">100</text><text x="1151" y="806">80</text><text x="1151" y="825">60</text><text x="1151" y="843">40</text></g>
<text x="1142" y="813" font-size="4.5" font-family="Liberation Serif, serif" fill="#333" text-anchor="middle" transform="rotate(-90 1142 813)">AUC/Accuracy(%)</text>
<g id="bars" stroke-width="0.3">
<g transform="translate(1167,0)">
<rect x="0" y="799" width="4.5" height="42" fill="#f0aaa0"/><rect x="4.5" y="801" width="4.5" height="40" fill="#f6d2a8"/><rect x="9" y="813" width="4.5" height="28" fill="#fbefc4"/><rect x="13.5" y="799.5" width="4.5" height="41.5" fill="#a8d6c6"/><rect x="18" y="799.5" width="4.5" height="41.5" fill="#bde9e9"/><rect x="22.5" y="800" width="4.5" height="41" fill="#a8ccf0"/><rect x="27" y="821" width="4.5" height="20" fill="#d6cbf2"/><rect x="31.5" y="815" width="4.5" height="26" fill="#f4c2e2"/></g>
<g transform="translate(1211,0)">
<rect x="0" y="801" width="4.5" height="40" fill="#f0aaa0"/><rect x="4.5" y="807" width="4.5" height="34" fill="#f6d2a8"/><rect x="9" y="825" width="4.5" height="16" fill="#fbefc4"/><rect x="13.5" y="815" width="4.5" height="26" fill="#a8d6c6"/><rect x="18" y="803" width="4.5" height="38" fill="#bde9e9"/><rect x="22.5" y="803" width="4.5" height="38" fill="#a8ccf0"/><rect x="27" y="803" width="4.5" height="38" fill="#d6cbf2"/><rect x="31.5" y="817" width="4.5" height="24" fill="#f4c2e2"/></g>
<g transform="translate(1256,0)">
<rect x="0" y="831" width="4.5" height="10" fill="#f0aaa0"/><rect x="4.5" y="832" width="4.5" height="9" fill="#f6d2a8"/><rect x="9" y="833" width="4.5" height="8" fill="#fbefc4"/><rect x="13.5" y="834" width="4.5" height="7" fill="#a8d6c6"/><rect x="18" y="833" width="4.5" height="8" fill="#bde9e9"/><rect x="22.5" y="835" width="4.5" height="6" fill="#a8ccf0"/><rect x="27" y="834" width="4.5" height="7" fill="#d6cbf2"/><rect x="31.5" y="831.5" width="4.5" height="9.5" fill="#f4c2e2"/></g>
<g transform="translate(1301,0)">
<rect x="0" y="794" width="4.5" height="47" fill="#f0aaa0"/><rect x="4.5" y="794.5" width="4.5" height="46.5" fill="#f6d2a8"/><rect x="9" y="827" width="4.5" height="14" fill="#fbefc4"/><rect x="13.5" y="803" width="4.5" height="38" fill="#a8d6c6"/><rect x="18" y="794.5" width="4.5" height="46.5" fill="#bde9e9"/><rect x="22.5" y="794.5" width="4.5" height="46.5" fill="#a8ccf0"/><rect x="27" y="808" width="4.5" height="33" fill="#d6cbf2"/><rect x="31.5" y="821" width="4.5" height="20" fill="#f4c2e2"/></g>
<g transform="translate(1346,0)">
<rect x="0" y="794.5" width="4.5" height="46.5" fill="#f0aaa0"/><rect x="4.5" y="795.5" width="4.5" height="45.5" fill="#f6d2a8"/><rect x="9" y="825.5" width="4.5" height="15.5" fill="#fbefc4"/><rect x="13.5" y="803" width="4.5" height="38" fill="#a8d6c6"/><rect x="18" y="795" width="4.5" height="46" fill="#bde9e9"/><rect x="22.5" y="795" width="4.5" height="46" fill="#a8ccf0"/><rect x="27" y="801" width="4.5" height="40" fill="#d6cbf2"/><rect x="31.5" y="818" width="4.5" height="23" fill="#f4c2e2"/></g>
<g transform="translate(1391,0)">
<rect x="0" y="795.5" width="4.5" height="45.5" fill="#f0aaa0"/><rect x="4.5" y="797" width="4.5" height="44" fill="#f6d2a8"/><rect x="9" y="825" width="4.5" height="16" fill="#fbefc4"/><rect x="13.5" y="799.5" width="4.5" height="41.5" fill="#a8d6c6"/><rect x="18" y="796" width="4.5" height="45" fill="#bde9e9"/><rect x="22.5" y="796" width="4.5" height="45" fill="#a8ccf0"/><rect x="27" y="803" width="4.5" height="38" fill="#d6cbf2"/><rect x="31.5" y="821" width="4.5" height="20" fill="#f4c2e2"/></g>
</g>
<g font-size="4.5" font-family="Liberation Serif, serif" fill="#333" text-anchor="middle"><text x="1185" y="846">Collab</text><text x="1229" y="846">Yelp</text><text x="1274" y="846">Aminer</text><text x="1319" y="846">Link-syn(0.4)</text><text x="1364" y="846">Link-syn(0.6)</text><text x="1409" y="846">Link-syn(0.8)</text></g>
<g font-size="4.5" font-family="Liberation Serif, serif" fill="#333">
<rect x="1138" y="848" width="9" height="4" fill="#f0aaa0"/><text x="1150" y="852">Full</text>
<rect x="1166" y="848" width="9" height="4" fill="#f6d2a8"/><text x="1183" y="852">w/o dis</text>
<rect x="1194" y="848" width="9" height="4" fill="#fbefc4"/><text x="1215" y="852">rep rou</text>
<rect x="1223" y="848" width="9" height="4" fill="#a8d6c6"/><text x="1240" y="852">w/o mem</text>
<rect x="1251" y="848" width="9" height="4" fill="#bde9e9"/><text x="1268" y="852">rep inv</text>
<rect x="1279" y="848" width="9" height="4" fill="#a8ccf0"/><text x="1296" y="852">w/o inv</text>
<rect x="1307" y="848" width="9" height="4" fill="#d6cbf2"/><text x="1324" y="852">w/o fft</text>
<rect x="1335" y="848" width="9" height="4" fill="#f4c2e2"/><text x="1352" y="852">w/o mem&amp;rou</text>
</g>
</g>
</svg>
</body></html>
